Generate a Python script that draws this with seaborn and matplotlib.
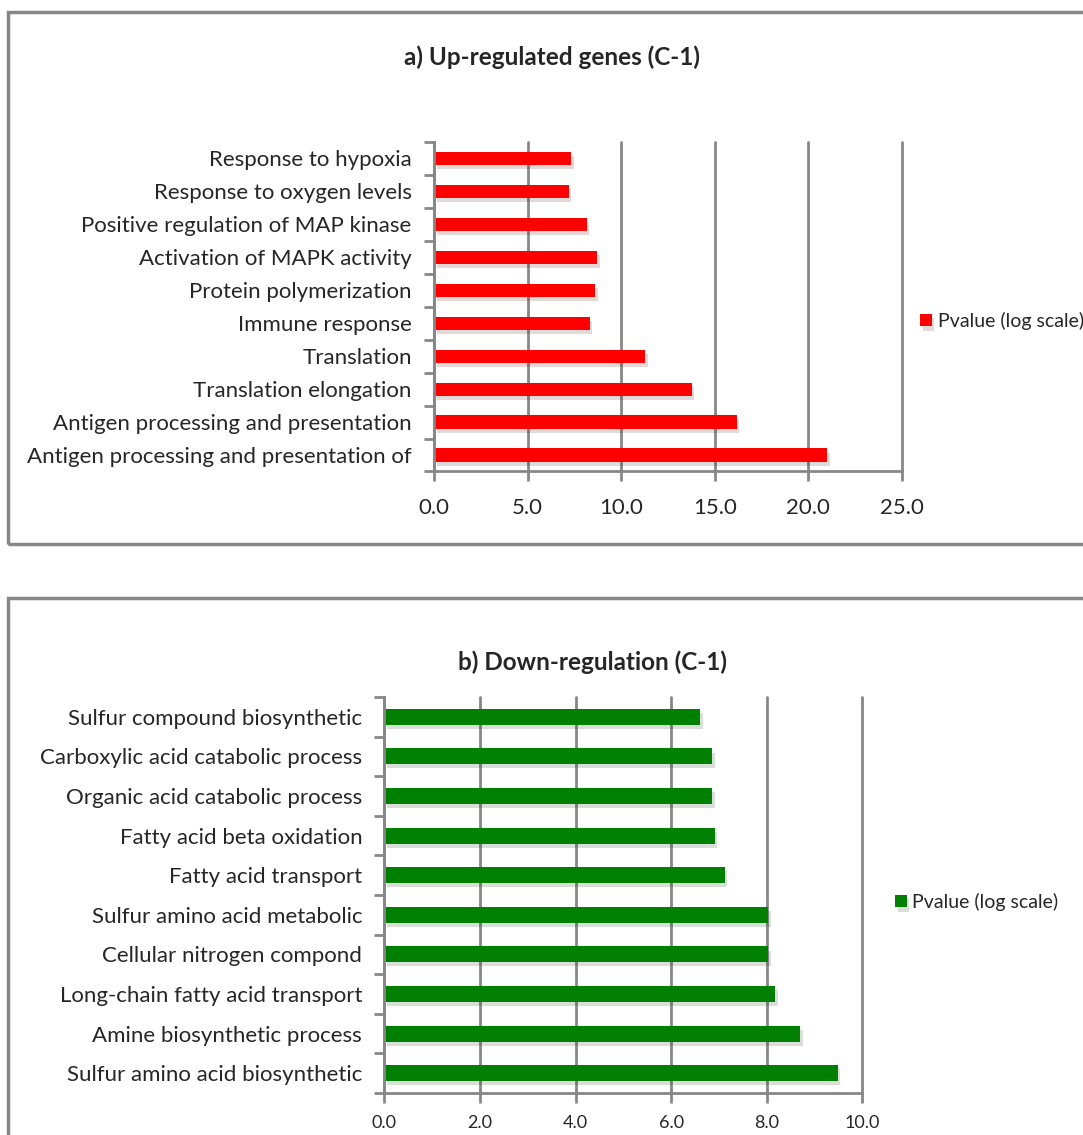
"""GO enrichment bar charts for up- and down-regulated genes (C-1)."""

import numpy as np
import pandas as pd
import matplotlib
matplotlib.use("Agg")
import matplotlib.pyplot as plt
import matplotlib.patheffects as pe
from matplotlib.patches import Rectangle
import seaborn as sns

# --- data -----------------------------------------------------------------
up_terms = [
    "Response to hypoxia",
    "Response to oxygen levels",
    "Positive regulation of MAP kinase",
    "Activation of MAPK activity",
    "Protein polymerization",
    "Immune response",
    "Translation",
    "Translation elongation",
    "Antigen processing and presentation",
    "Antigen processing and presentation of",
]
up_values = [7.34, 7.19, 8.16, 8.73, 8.62, 8.32, 11.29, 13.76, 16.17, 21.01]
up_ticks = [0, 5, 10, 15, 20, 25]

down_terms = [
    "Sulfur compound biosynthetic",
    "Carboxylic acid catabolic process",
    "Organic acid catabolic process",
    "Fatty acid beta oxidation",
    "Fatty acid transport",
    "Sulfur amino acid metabolic",
    "Cellular nitrogen compond",
    "Long-chain fatty acid transport",
    "Amine biosynthetic process",
    "Sulfur amino acid biosynthetic",
]
down_values = [6.61, 6.85, 6.85, 6.91, 7.12, 8.03, 8.03, 8.17, 8.70, 9.48]
down_ticks = [0, 2, 4, 6, 8, 10]

series_label = "Pvalue (log scale)"

sns.set_theme(style="white")
plt.rcParams["font.family"] = ["Lato", "DejaVu Sans"]

GRID = "#878787"


def draw_panel(ax, terms, values, ticks, color, label_size, tick_size,
               ypad, xpad, legend_pos, legend_size):
    df = pd.DataFrame({"term": terms, "value": values})
    sns.barplot(data=df, x="value", y="term", orient="h", color=color,
                width=0.4, saturation=1, label=series_label, ax=ax)
    for bar in ax.patches:
        bar.set_path_effects([pe.SimplePatchShadow(offset=(2, -3), alpha=0.15),
                              pe.Normal()])
        bar.set_edgecolor("none")
    n = len(terms)
    ax.set_xlim(ticks[0], ticks[-1])
    ax.set_ylim(n - 0.5, -0.5)
    ax.set_xticks(ticks)
    ax.set_xticklabels([f"{t:.1f}" for t in ticks], fontsize=tick_size)
    ax.set_yticks(np.arange(-0.5, n, 1), minor=True)
    ax.tick_params(axis="y", which="major", length=0, pad=ypad,
                   labelsize=label_size)
    ax.tick_params(axis="y", which="minor", left=True, length=7,
                   width=2, color=GRID, direction="out")
    ax.tick_params(axis="x", which="major", bottom=True, length=7,
                   width=2, color=GRID, direction="out", pad=xpad)
    ax.set_xlabel("")
    ax.set_ylabel("")
    ax.grid(axis="x", color=GRID, linewidth=2)
    for line in ax.xaxis.get_gridlines():
        line.set_clip_on(False)
    ax.set_axisbelow(True)
    for side in ["top", "right"]:
        ax.spines[side].set_visible(False)
    for side in ["left", "bottom"]:
        ax.spines[side].set_color(GRID)
        ax.spines[side].set_linewidth(2)
    ax.legend(loc="center left", bbox_to_anchor=legend_pos,
              bbox_transform=ax.figure.transFigure, frameon=False,
              borderpad=0, borderaxespad=0,
              handlelength=0.6, handleheight=0.6, handletextpad=0.3,
              fontsize=legend_size)


fig = plt.figure(figsize=(10.83, 11.35), dpi=100)

# outer boxes like the spreadsheet chart frames
fig.patches.append(Rectangle((8 / 1083, 1 - 544 / 1135), 1.2, 532 / 1135,
                             transform=fig.transFigure, fill=False,
                             edgecolor=GRID, linewidth=2.5))
fig.patches.append(Rectangle((8 / 1083, -0.2), 1.2, 0.2 + 1 - 598 / 1135,
                             transform=fig.transFigure, fill=False,
                             edgecolor=GRID, linewidth=2.5))

ax_up = fig.add_axes([0.4007, 0.5846, 0.4321, 0.2903])
draw_panel(ax_up, up_terms, up_values, up_ticks, "#FF0000",
           label_size=16, tick_size=16, ypad=16, xpad=12,
           legend_pos=(920 / 1083, 1 - 321 / 1135), legend_size=14)
fig.text(552 / 1083, 1 - 57 / 1135, "a) Up-regulated genes (C-1)",
         ha="center", va="center", fontsize=17.5, fontweight="bold")

ax_down = fig.add_axes([0.3549, 0.0370, 0.4414, 0.3489])
draw_panel(ax_down, down_terms, down_values, down_ticks, "#008000",
           label_size=16, tick_size=13, ypad=16, xpad=9,
           legend_pos=(895 / 1083, 1 - 902 / 1135), legend_size=14)
fig.text(593 / 1083, 1 - 662 / 1135, "b) Down-regulation (C-1)",
         ha="center", va="center", fontsize=17.5, fontweight="bold")

fig.savefig("out.png", dpi=100)
